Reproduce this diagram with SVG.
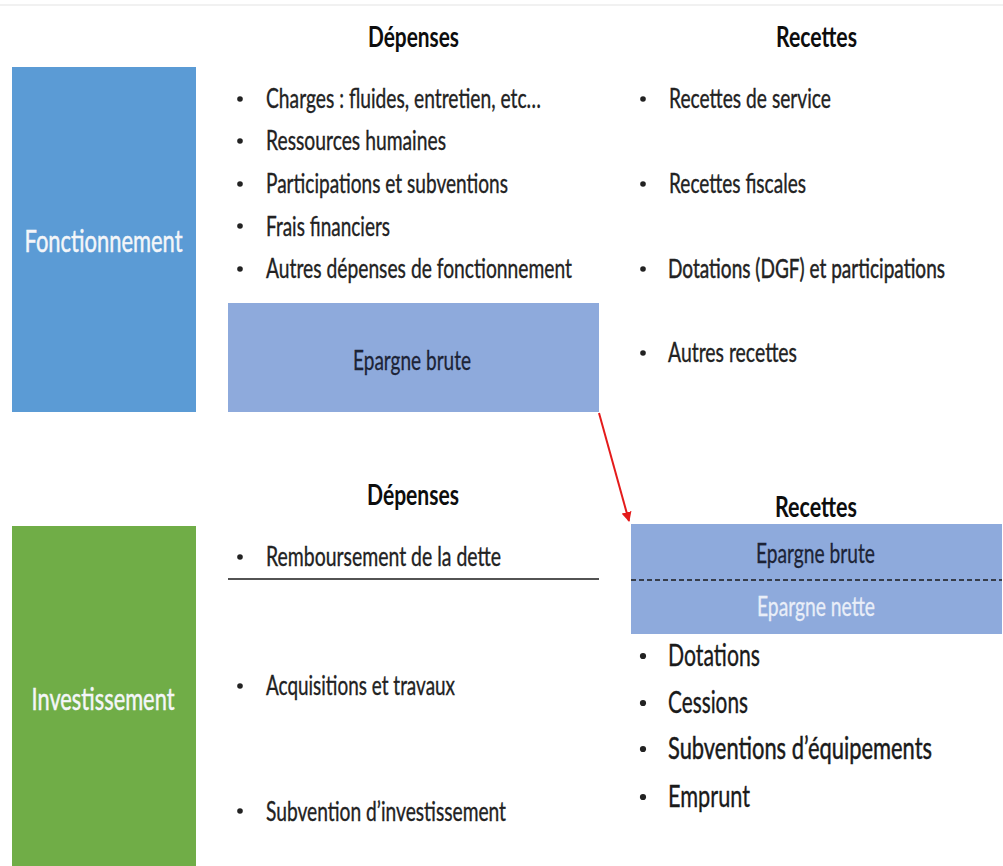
<svg xmlns="http://www.w3.org/2000/svg" width="1003" height="866" viewBox="0 0 1003 866">
<style>
  text { font-family: Lato, "Liberation Sans", "DejaVu Sans", sans-serif; }
  .t { font-size: 27px; fill: #222222; stroke: #222222; stroke-width: 0.35px; }
  .tl { font-size: 30px; fill: #1a1a1a; stroke: #1a1a1a; stroke-width: 0.35px; }
  .h { font-size: 29px; font-weight: bold; fill: #0d0d0d; }
  .side { font-size: 31px; fill: #f4f6f9; stroke: #f4f6f9; stroke-width: 0.5px; text-anchor: middle; }
  .ep { font-size: 26px; fill: #1c2336; stroke: #1c2336; stroke-width: 0.3px; text-anchor: middle; }
  .epn { font-size: 26px; fill: #e9eef8; stroke: #e9eef8; stroke-width: 0.3px; text-anchor: middle; }
  .bul { fill: #222222; }
  .blue { fill: #5b9bd5; }
  .green { fill: #70ad47; }
  .ebox { fill: #8eaadc; }
</style>
<defs>
  <marker id="arr" viewBox="0 0 10 10" refX="9" refY="5" markerWidth="5" markerHeight="5" orient="auto" markerUnits="strokeWidth">
    <path d="M0,0 L10,5 L0,10 z" fill="#e41b1b"/>
  </marker>
</defs>
<rect x="0" y="0" width="1003" height="866" fill="#ffffff"/>
<line x1="0" y1="5" x2="1003" y2="5" stroke="#ececec" stroke-width="1.5"/>

<g id="fonctionnement">
  <rect class="blue" x="12" y="67" width="184" height="345"/>
  <text class="side" x="103.5" y="252" textLength="158" lengthAdjust="spacingAndGlyphs">Fonctionnement</text>
</g>

<g id="investissement">
  <rect class="green" x="12" y="526" width="184" height="340"/>
  <text class="side" x="103" y="710" textLength="143" lengthAdjust="spacingAndGlyphs">Investissement</text>
</g>

<g id="fonct-depenses">
  <text class="h" x="368" y="46.5" textLength="91" lengthAdjust="spacingAndGlyphs">Dépenses</text>
  <circle class="bul" cx="240" cy="99" r="2.8"/>
  <text class="t" x="266" y="108" textLength="275" lengthAdjust="spacingAndGlyphs">Charges : fluides, entretien, etc…</text>
  <circle class="bul" cx="240" cy="141" r="2.8"/>
  <text class="t" x="266" y="150" textLength="180" lengthAdjust="spacingAndGlyphs">Ressources humaines</text>
  <circle class="bul" cx="240" cy="184" r="2.8"/>
  <text class="t" x="266" y="193" textLength="242" lengthAdjust="spacingAndGlyphs">Participations et subventions</text>
  <circle class="bul" cx="240" cy="226" r="2.8"/>
  <text class="t" x="266" y="235.5" textLength="124" lengthAdjust="spacingAndGlyphs">Frais financiers</text>
  <circle class="bul" cx="240" cy="269" r="2.8"/>
  <text class="t" x="266" y="278" textLength="306" lengthAdjust="spacingAndGlyphs">Autres dépenses de fonctionnement</text>
</g>

<g id="epargne-brute-f">
  <rect class="ebox" x="228" y="303" width="371" height="109"/>
  <text class="ep" x="412" y="369.5" textLength="118" lengthAdjust="spacingAndGlyphs">Epargne brute</text>
</g>

<g id="fonct-recettes">
  <text class="h" x="776" y="46.5" textLength="81" lengthAdjust="spacingAndGlyphs">Recettes</text>
  <circle class="bul" cx="643" cy="99" r="2.8"/>
  <text class="t" x="669" y="108" textLength="162" lengthAdjust="spacingAndGlyphs">Recettes de service</text>
  <circle class="bul" cx="643" cy="184" r="2.8"/>
  <text class="t" x="669" y="193" textLength="137" lengthAdjust="spacingAndGlyphs">Recettes fiscales</text>
  <circle class="bul" cx="643" cy="269" r="2.8"/>
  <text class="t" transform="translate(668,278) scale(1,1.35)" x="0" y="0" style="font-size:20px" textLength="277" lengthAdjust="spacingAndGlyphs">Dotations (DGF) et participations</text>
  <circle class="bul" cx="643" cy="353" r="2.8"/>
  <text class="t" x="668" y="362" textLength="129" lengthAdjust="spacingAndGlyphs">Autres recettes</text>
</g>

<g id="invest-depenses">
  <text class="h" x="367" y="505" textLength="92" lengthAdjust="spacingAndGlyphs">Dépenses</text>
  <circle class="bul" cx="240" cy="557" r="2.8"/>
  <text class="t" x="266" y="566" textLength="235" lengthAdjust="spacingAndGlyphs">Remboursement de la dette</text>
  <line x1="228" y1="579" x2="599" y2="579" stroke="#1a1a1a" stroke-width="1.5"/>
  <circle class="bul" cx="240" cy="686" r="2.8"/>
  <text class="t" x="266" y="695" textLength="189" lengthAdjust="spacingAndGlyphs">Acquisitions et travaux</text>
  <circle class="bul" cx="240" cy="811" r="2.8"/>
  <text class="t" x="266" y="820.5" textLength="240" lengthAdjust="spacingAndGlyphs">Subvention d’investissement</text>
</g>

<g id="invest-recettes">
  <text class="h" x="775" y="517" textLength="82" lengthAdjust="spacingAndGlyphs">Recettes</text>
  <rect class="ebox" x="631" y="524" width="371" height="110"/>
  <line x1="631" y1="580" x2="1002" y2="580" stroke="#1a1a1a" stroke-width="1.3" stroke-dasharray="5,3"/>
  <text class="ep" x="815.5" y="563" textLength="119" lengthAdjust="spacingAndGlyphs">Epargne brute</text>
  <text class="epn" x="816" y="616" textLength="118" lengthAdjust="spacingAndGlyphs">Epargne nette</text>
  <circle class="bul" cx="643" cy="656" r="3.1"/>
  <text class="tl" x="668" y="666" textLength="92" lengthAdjust="spacingAndGlyphs">Dotations</text>
  <circle class="bul" cx="643" cy="703" r="3.1"/>
  <text class="tl" x="668" y="713" textLength="80" lengthAdjust="spacingAndGlyphs">Cessions</text>
  <circle class="bul" cx="643" cy="749" r="3.1"/>
  <text class="tl" transform="translate(668,759) scale(1,1.36)" x="0" y="0" style="font-size:22px" textLength="264" lengthAdjust="spacingAndGlyphs">Subventions d’équipements</text>
  <circle class="bul" cx="643" cy="797" r="3.1"/>
  <text class="tl" x="668" y="807" textLength="82" lengthAdjust="spacingAndGlyphs">Emprunt</text>
</g>

<g id="connectors">
  <line x1="599" y1="413" x2="629" y2="521" stroke="#e41b1b" stroke-width="2" marker-end="url(#arr)"/>
</g>
</svg>
